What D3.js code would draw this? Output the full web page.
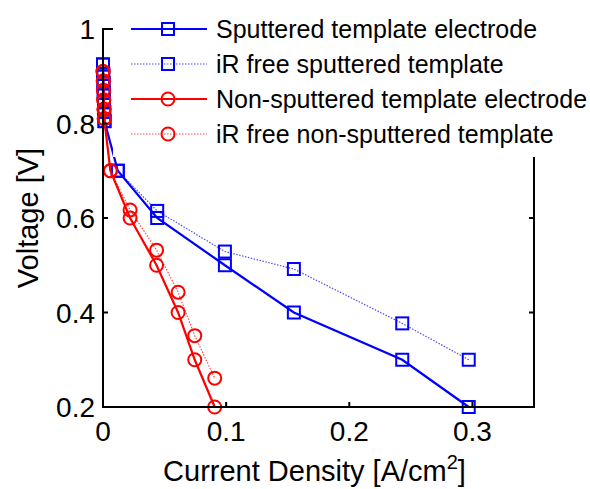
<!DOCTYPE html>
<html><head><meta charset="utf-8">
<script src="https://cdn.jsdelivr.net/npm/d3@7"></script>
<style>body{margin:0;background:#fff}svg{display:block}</style>
</head><body>
<svg id="c" width="590" height="489"></svg>
<script>
// Data
const sputX    = [0.0000, 0.0002, 0.0004, 0.0006, 0.0008, 0.0010, 0.0012, 0.012, 0.044, 0.099, 0.155, 0.243, 0.297];
const sputV    = [0.925, 0.905, 0.885, 0.865, 0.845, 0.825, 0.805, 0.70, 0.60, 0.50, 0.40, 0.30, 0.20];
const sputIrV  = [0.925, 0.905, 0.885, 0.865, 0.845, 0.825, 0.805, 0.70, 0.615, 0.529, 0.492, 0.377, 0.30];
const nonX     = [0.0000, 0.0002, 0.0004, 0.0006, 0.0008, 0.0010, 0.006, 0.022, 0.0435, 0.061, 0.0745, 0.0907];
const nonV     = [0.91, 0.89, 0.87, 0.85, 0.83, 0.81, 0.70, 0.60, 0.50, 0.40, 0.30, 0.20];
const nonIrV   = [0.91, 0.89, 0.87, 0.85, 0.83, 0.81, 0.70, 0.617, 0.532, 0.443, 0.351, 0.261];
const seriesNames = ["Sputtered template electrode", "iR free sputtered template",
                     "Non-sputtered template electrode", "iR free non-sputtered template"];
const xTicks = [0, 0.1, 0.2, 0.3];
const yTicks = [0.2, 0.4, 0.6, 0.8, 1];
const xLabel = "Current Density [A/cm";
const yLabel = "Voltage [V]";

const series = [
  {name: seriesNames[0], x: sputX, y: sputV,   color: "#0000ff", dotted: false, marker: "square"},
  {name: seriesNames[1], x: sputX, y: sputIrV, color: "#0000ff", dotted: true,  marker: "square"},
  {name: seriesNames[2], x: nonX,  y: nonV,    color: "#ff0000", dotted: false, marker: "circle"},
  {name: seriesNames[3], x: nonX,  y: nonIrV,  color: "#ff0000", dotted: true,  marker: "circle"}
];

const svg = d3.select("#c");
const L = 103, R = 534, T = 29, B = 407;
const x = d3.scaleLinear().domain([0, 0.35]).range([L, R]);
const y = d3.scaleLinear().domain([0.2, 1]).range([B, T]);
const font = "'Liberation Sans', Arial, sans-serif";

const plot = svg.append("g");
const line = d3.line().x(d => x(d[0])).y(d => y(d[1]));

function drawMarker(g, type, cx, cy, color) {
  if (type === "square") {
    g.append("rect").attr("x", cx - 6).attr("y", cy - 6).attr("width", 12).attr("height", 12)
      .attr("fill", "none").attr("stroke", color).attr("stroke-width", 2);
  } else {
    g.append("circle").attr("cx", cx).attr("cy", cy).attr("r", 6.5)
      .attr("fill", "none").attr("stroke", color).attr("stroke-width", 2);
  }
}

series.forEach(s => {
  const pts = s.x.map((v, i) => [v, s.y[i]]);
  plot.append("path").attr("d", line(pts)).attr("fill", "none")
    .attr("stroke", s.color)
    .attr("stroke-width", s.dotted ? 1.2 : 2.2)
    .attr("stroke-dasharray", s.dotted ? "1.5,1.5" : null)
    .attr("stroke-opacity", s.dotted ? 0.7 : 1);
  const mg = plot.append("g");
  pts.forEach(p => drawMarker(mg, s.marker, x(p[0]), y(p[1]), s.color));
});

// Axes box
const ax = svg.append("g").attr("stroke", "#000").attr("stroke-width", 2).attr("fill", "none");
ax.append("rect").attr("x", L).attr("y", T).attr("width", R - L).attr("height", B - T);
const tl = 5;
xTicks.forEach(t => {
  ax.append("line").attr("x1", x(t)).attr("x2", x(t)).attr("y1", B).attr("y2", B - tl);
  ax.append("line").attr("x1", x(t)).attr("x2", x(t)).attr("y1", T).attr("y2", T + tl);
});
yTicks.forEach(t => {
  ax.append("line").attr("x1", L).attr("x2", L + tl).attr("y1", y(t)).attr("y2", y(t));
  ax.append("line").attr("x1", R).attr("x2", R - tl).attr("y1", y(t)).attr("y2", y(t));
});

// Tick labels
const fmt = d => d === 0 ? "0" : (d === 1 ? "1" : String(d));
svg.append("g").selectAll("text").data(xTicks).join("text")
  .attr("x", d => x(d)).attr("y", B + 34).attr("text-anchor", "middle")
  .attr("font-family", font).attr("font-size", 28).text(fmt);
svg.append("g").selectAll("text").data(yTicks).join("text")
  .attr("x", L - 8).attr("y", d => y(d) + 10).attr("text-anchor", "end")
  .attr("font-family", font).attr("font-size", 28).text(fmt);

// Axis labels
const xl = svg.append("text").attr("x", (L + R) / 2 - 4).attr("y", 481).attr("text-anchor", "middle")
  .attr("font-family", font).attr("font-size", 29);
xl.append("tspan").text(xLabel);
xl.append("tspan").attr("font-size", 20).attr("dy", -12).text("2");
xl.append("tspan").attr("dy", 12).text("]");
svg.append("text").attr("transform", `translate(38,${(T + B) / 2}) rotate(-90)`)
  .attr("text-anchor", "middle").attr("font-family", font).attr("font-size", 29).text(yLabel);

// Legend
const lg = svg.append("g");
lg.append("rect").attr("x", 113).attr("y", 0).attr("width", 477).attr("height", 157).attr("fill", "#fff");
series.forEach((s, i) => {
  const cy = 29 + i * 35;
  lg.append("line").attr("x1", 131).attr("x2", 207).attr("y1", cy).attr("y2", cy)
    .attr("stroke", s.color).attr("stroke-width", s.dotted ? 1.2 : 2.2)
    .attr("stroke-dasharray", s.dotted ? "1.5,1.5" : null)
    .attr("stroke-opacity", s.dotted ? 0.7 : 1);
  drawMarker(lg, s.marker, 168, cy, s.color);
  lg.append("text").attr("x", 216).attr("y", cy + 9).attr("font-family", font)
    .attr("font-size", 25).text(s.name);
});
</script>
</body></html>
